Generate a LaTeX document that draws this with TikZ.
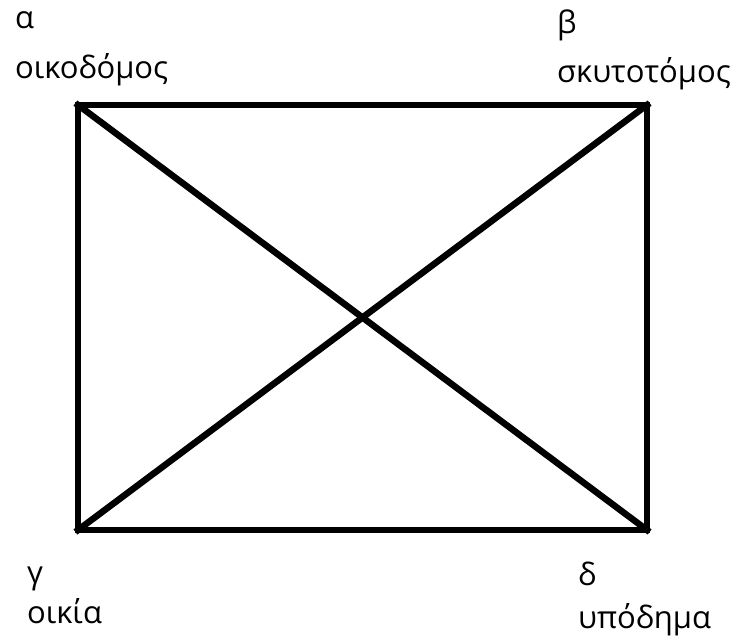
\documentclass[tikz,border=0pt]{standalone}
\usepackage{fontspec}
\setmainfont{Open Sans}
\begin{document}
\begin{tikzpicture}[x=1pt,y=-1pt,
  lbl/.style={anchor=base west,inner sep=0pt,font=\fontsize{31}{36}\selectfont},
  edge/.style={line width=6.5pt,line cap=rect,line join=miter}]
\useasboundingbox (0,0) rectangle (738,641);
\coordinate (A) at (78,105);
\coordinate (B) at (647,105);
\coordinate (C) at (78,530);
\coordinate (D) at (647,530);
\draw[edge] (A) -- (B) -- (D) -- (C) -- cycle;
\draw[edge] (A) -- (D);
\draw[edge] (B) -- (C);
\node[lbl] (a1) at (15,28) {α};
\node[lbl] (a2) at (15,78) {οικοδόμος};
\node[lbl] (b1) at (557,33) {β};
\node[lbl] (b2) at (557,82) {σκυτοτόμος};
\node[lbl] (c1) at (27,583) {γ};
\node[lbl] (c2) at (27,623) {οικία};
\node[lbl] (d1) at (578,585) {δ};
\node[lbl] (d2) at (578,628) {υπόδημα};
\end{tikzpicture}
\end{document}
